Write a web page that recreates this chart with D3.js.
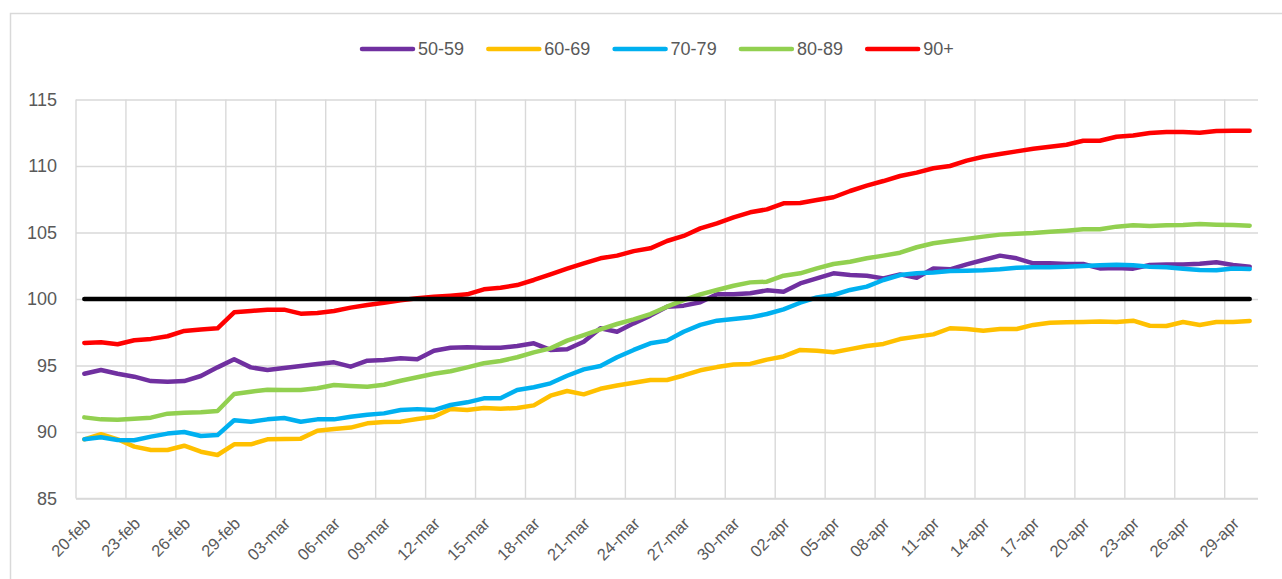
<!DOCTYPE html>
<html>
<head>
<meta charset="utf-8">
<script src="https://cdn.jsdelivr.net/npm/d3@7"></script>
<style>
  html, body { margin: 0; padding: 0; background: #fff; }
  svg text { font-family: "Liberation Sans", Arial, sans-serif; fill: #595959; }
</style>
</head>
<body>
<svg id="chart" width="1282" height="579"></svg>
<script>
// date categories (2020, one per day)
const dates = [
  '20-feb','21-feb','22-feb','23-feb','24-feb','25-feb','26-feb','27-feb','28-feb','29-feb',
  '01-mar','02-mar','03-mar','04-mar','05-mar','06-mar','07-mar','08-mar','09-mar','10-mar',
  '11-mar','12-mar','13-mar','14-mar','15-mar','16-mar','17-mar','18-mar','19-mar','20-mar',
  '21-mar','22-mar','23-mar','24-mar','25-mar','26-mar','27-mar','28-mar','29-mar','30-mar',
  '31-mar','01-apr','02-apr','03-apr','04-apr','05-apr','06-apr','07-apr','08-apr','09-apr',
  '10-apr','11-apr','12-apr','13-apr','14-apr','15-apr','16-apr','17-apr','18-apr','19-apr',
  '20-apr','21-apr','22-apr','23-apr','24-apr','25-apr','26-apr','27-apr','28-apr','29-apr',
  '30-apr'
];

const yTicks = [85, 90, 95, 100, 105, 110, 115];

const age50 = [94.38, 94.66, 94.38, 94.16, 93.83, 93.78, 93.83, 94.21, 94.86, 95.47,
  94.86, 94.66, 94.81, 94.96, 95.11, 95.24, 94.91, 95.36, 95.41, 95.54,
  95.47, 96.11, 96.34, 96.37, 96.34, 96.34, 96.47, 96.67, 96.17, 96.22,
  96.79, 97.8, 97.54, 98.17, 98.75, 99.42, 99.5, 99.75, 100.35, 100.35,
  100.43, 100.65, 100.55, 101.17, 101.55, 101.93, 101.8, 101.75, 101.55, 101.85,
  101.6, 102.3, 102.23, 102.6, 102.93, 103.26, 103.06, 102.68, 102.68, 102.63,
  102.63, 102.3, 102.33, 102.28, 102.56, 102.6, 102.6, 102.65, 102.76, 102.56, 102.43];

const age60 = [89.45, 89.83, 89.45, 88.9, 88.65, 88.65, 88.97, 88.52, 88.27, 89.07,
  89.07, 89.45, 89.47, 89.5, 90.1, 90.23, 90.33, 90.65, 90.75, 90.78,
  90.98, 91.15, 91.73, 91.65, 91.8, 91.75, 91.8, 92.0, 92.73, 93.08,
  92.83, 93.25, 93.5, 93.71, 93.91, 93.91, 94.25, 94.64, 94.88, 95.07,
  95.12, 95.44, 95.68, 96.17, 96.11, 95.99, 96.23, 96.47, 96.62, 96.99,
  97.17, 97.34, 97.8, 97.74, 97.62, 97.74, 97.74, 98.05, 98.22, 98.25,
  98.27, 98.3, 98.27, 98.37, 97.99, 97.97, 98.27, 98.05, 98.27, 98.27, 98.35];

const age70 = [89.45, 89.6, 89.4, 89.38, 89.65, 89.88, 90.0, 89.7, 89.77, 90.88,
  90.77, 90.95, 91.05, 90.77, 90.95, 90.95, 91.15, 91.3, 91.4, 91.65,
  91.72, 91.65, 92.03, 92.23, 92.53, 92.53, 93.16, 93.36, 93.66, 94.23,
  94.71, 94.96, 95.62, 96.17, 96.67, 96.87, 97.54, 98.05, 98.37, 98.5,
  98.62, 98.87, 99.22, 99.72, 100.12, 100.3, 100.68, 100.93, 101.43, 101.8,
  101.93, 102.0, 102.1, 102.13, 102.16, 102.23, 102.35, 102.38, 102.38, 102.43,
  102.48, 102.53, 102.58, 102.53, 102.43, 102.38, 102.28, 102.18, 102.16, 102.3, 102.25];

const age80 = [91.1, 90.95, 90.93, 91.0, 91.08, 91.38, 91.45, 91.48, 91.58, 92.86,
  93.03, 93.18, 93.16, 93.16, 93.29, 93.53, 93.46, 93.41, 93.55, 93.85,
  94.12, 94.38, 94.57, 94.86, 95.17, 95.34, 95.62, 95.99, 96.29, 96.87,
  97.29, 97.72, 98.12, 98.47, 98.87, 99.42, 99.92, 100.35, 100.68, 101.0,
  101.25, 101.3, 101.75, 101.93, 102.3, 102.63, 102.8, 103.06, 103.26, 103.48,
  103.89, 104.19, 104.36, 104.52, 104.69, 104.84, 104.91, 104.96, 105.06, 105.14,
  105.24, 105.24, 105.44, 105.54, 105.49, 105.54, 105.56, 105.64, 105.59, 105.56, 105.51];

const age90 = [96.7, 96.75, 96.6, 96.9, 97.0, 97.2, 97.6, 97.7, 97.8, 99.0,
  99.1, 99.2, 99.2, 98.9, 98.95, 99.1, 99.35, 99.55, 99.72, 99.9,
  100.05, 100.17, 100.25, 100.35, 100.73, 100.85, 101.05, 101.43, 101.85, 102.28,
  102.68, 103.06, 103.26, 103.6, 103.81, 104.36, 104.74, 105.31, 105.69, 106.14,
  106.52, 106.74, 107.19, 107.22, 107.44, 107.65, 108.12, 108.52, 108.87, 109.25,
  109.5, 109.83, 110.0, 110.4, 110.7, 110.9, 111.1, 111.3, 111.45, 111.6,
  111.9, 111.9, 112.2, 112.3, 112.48, 112.56, 112.56, 112.5, 112.63, 112.65, 112.65];

const baseline = dates.map(() => 100);

const seriesNames = ['50-59', '60-69', '70-79', '80-89', '90+'];
const seriesValues = [age50, age60, age70, age80, age90];
const seriesColors = ['#7030A0', '#FFC000', '#00B0F0', '#92D050', '#FF0000'];

const svg = d3.select('#chart');
const width = +svg.attr('width');
const height = +svg.attr('height');

const margin = { top: 99.5, right: 24, bottom: 80.5, left: 76 };
const innerWidth = width - margin.left - margin.right;
const innerHeight = height - margin.top - margin.bottom;

// chart frame (runs off the right and bottom edges)
svg.append('rect')
  .attr('x', 10.5).attr('y', 13.5)
  .attr('width', width + 20).attr('height', height + 20)
  .attr('fill', 'none')
  .attr('stroke', '#D9D9D9')
  .attr('stroke-width', 1.5);

const xScale = d3.scaleBand()
  .domain(dates)
  .range([0, innerWidth])
  .padding(0);
const bw = xScale.bandwidth();
const xMid = d => xScale(d) + bw / 2;

const yScale = d3.scaleLinear()
  .domain([85, 115])
  .range([innerHeight, 0]);

const g = svg.append('g')
  .attr('transform', `translate(${margin.left}, ${margin.top})`);

// horizontal gridlines + y labels
const yAxis = d3.axisLeft(yScale)
  .tickValues(yTicks)
  .tickSize(-innerWidth)
  .tickPadding(19);
const yAxisG = g.append('g').attr('class', 'y-axis').call(yAxis);
yAxisG.select('.domain').remove();
yAxisG.selectAll('line')
  .attr('stroke', '#D9D9D9')
  .attr('stroke-width', 1.4);
yAxisG.selectAll('text')
  .attr('font-size', 18)
  .attr('fill', '#595959');

// vertical gridlines every third day
const labelDates = dates.filter((d, i) => i % 3 === 0);
g.append('g').attr('class', 'x-grid')
  .selectAll('line').data(labelDates)
  .enter().append('line')
    .attr('x1', d => xScale(d))
    .attr('x2', d => xScale(d))
    .attr('y1', 0)
    .attr('y2', innerHeight)
    .attr('stroke', '#D9D9D9')
    .attr('stroke-width', 1.4);

// bottom axis line
g.append('line')
  .attr('x1', 0).attr('x2', innerWidth)
  .attr('y1', innerHeight).attr('y2', innerHeight)
  .attr('stroke', '#D9D9D9')
  .attr('stroke-width', 1.6);

// rotated date labels
g.append('g').attr('class', 'x-labels')
  .selectAll('text').data(labelDates)
  .enter().append('text')
    .attr('transform', d => `translate(${xMid(d) + 3}, ${innerHeight + 22}) rotate(-45)`)
    .attr('text-anchor', 'end')
    .attr('dy', '0.35em')
    .attr('font-size', 16.5)
    .text(d => d);

// series lines
const line = d3.line()
  .x((v, i) => xMid(dates[i]))
  .y(v => yScale(v));

seriesValues.forEach((vals, k) => {
  g.append('path')
    .datum(vals)
    .attr('fill', 'none')
    .attr('stroke', seriesColors[k])
    .attr('stroke-width', 4.5)
    .attr('stroke-linejoin', 'round')
    .attr('stroke-linecap', 'round')
    .attr('d', line);
});

// reference line at 100
g.append('path')
  .datum(baseline)
  .attr('fill', 'none')
  .attr('stroke', '#000000')
  .attr('stroke-width', 4.5)
  .attr('stroke-linecap', 'round')
  .attr('d', line);

// legend
const legend = svg.append('g').attr('class', 'legend')
  .attr('transform', 'translate(360, 49)');
const legendItem = legend.selectAll('g').data(seriesNames)
  .enter().append('g')
    .attr('transform', (d, i) => `translate(${i * 126.3}, 0)`);
legendItem.append('line')
  .attr('x1', 2).attr('x2', 53)
  .attr('y1', 0).attr('y2', 0)
  .attr('stroke', (d, i) => seriesColors[i])
  .attr('stroke-width', 4.5)
  .attr('stroke-linecap', 'round');
legendItem.append('text')
  .attr('x', 58)
  .attr('dy', '0.35em')
  .attr('font-size', 18)
  .text(d => d);
</script>
</body>
</html>
